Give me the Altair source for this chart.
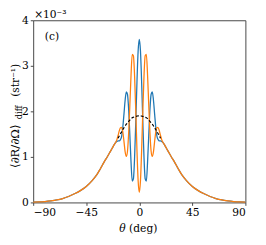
import altair as alt
import pandas as pd

# --- values (units of 1e-3 str^-1) ---
core_theta = list(range(0, 21))
blue_core = [3.58, 3.32, 2.63, 1.76, 0.98, 0.52, 0.47, 0.88, 1.47, 2.03, 2.37,
             2.43, 2.25, 1.94, 1.65, 1.45, 1.38, 1.35, 1.35, 1.34, 1.32]
orange_core = [0.22, 0.48, 1.16, 2.02, 2.78, 3.22, 3.25, 2.80, 2.15, 1.54, 1.13,
               1.01, 1.11, 1.34, 1.55, 1.65, 1.64, 1.57, 1.47, 1.38, 1.32]
tail_theta = [21, 23, 25, 27, 30, 33, 36, 40, 45, 50, 55, 60, 65, 70, 75, 80, 85, 90]
tail_vals = [1.28, 1.19, 1.10, 1.01, 0.88, 0.74, 0.61, 0.48, 0.35, 0.26, 0.19,
             0.13, 0.085, 0.055, 0.035, 0.02, 0.01, 0.005]
dash_theta = list(range(0, 19))
dash_vals = [1.90, 1.90, 1.895, 1.89, 1.88, 1.87, 1.86, 1.84, 1.81, 1.78, 1.75,
             1.72, 1.68, 1.64, 1.60, 1.55, 1.51, 1.46, 1.41]

x_ticks = [-90, -45, 0, 45, 90]
y_ticks = [0, 1, 2, 3, 4]

FONT = "DejaVu Serif"


def mirrored(thetas, vals):
    """Curve is symmetric about theta = 0 in the reference."""
    pts = {}
    for t, v in zip(thetas, vals):
        pts[t] = v
        pts[-t] = v
    ks = sorted(pts)
    return ks, [pts[k] for k in ks]


bt, bv = mirrored(core_theta + tail_theta, blue_core + tail_vals)
ot, ov = mirrored(core_theta + tail_theta, orange_core + tail_vals)
dt, dv = mirrored(dash_theta, dash_vals)

blue_df = pd.DataFrame({"theta": bt, "R": bv})
orange_df = pd.DataFrame({"theta": ot, "R": ov})
dash_df = pd.DataFrame({"theta": dt, "R": dv})

xs = alt.X("theta:Q", scale=alt.Scale(domain=[-90, 90], nice=False),
           axis=alt.Axis(values=x_ticks, title=None, grid=False, domain=False,
                         tickSize=3, labelPadding=2, tickColor="#444",
                         labelFont=FONT, labelFontSize=11))
ys = alt.Y("R:Q", scale=alt.Scale(domain=[0, 4], nice=False),
           axis=alt.Axis(values=y_ticks, title=None, grid=False, domain=False,
                         tickSize=3, labelPadding=2, tickColor="#444",
                         labelFont=FONT, labelFontSize=11))

blue = alt.Chart(blue_df).mark_line(color="#1f77b4", strokeWidth=1.3,
                                    interpolate="monotone").encode(x=xs, y=ys)
orange = alt.Chart(orange_df).mark_line(color="#ff7f0e", strokeWidth=1.3,
                                        interpolate="monotone").encode(x=xs, y=ys)
dashed = alt.Chart(dash_df).mark_line(color="black", strokeWidth=1.2,
                                      strokeDash=[3, 2],
                                      interpolate="monotone").encode(x=xs, y=ys)

one = pd.DataFrame({"a": [0]})


def txt(s, x, y, size=12, angle=0, align="left", baseline="alphabetic", style="normal"):
    return alt.Chart(one).mark_text(text=s, font=FONT, fontSize=size, angle=angle,
                                    align=align, baseline=baseline, fontStyle=style,
                                    color="black").encode(x=alt.value(x), y=alt.value(y))


annotations = [
    txt("×10⁻³", 1, -2, size=11),
    txt("(c)", 12, 20, size=11),
    txt("θ", 92, 219, size=11, align="center", style="italic"),
    txt("(deg)", 99, 219, size=11),
    txt("⟨∂R/∂Ω⟩", -15, 130, size=12, angle=270, align="center"),
    txt("diff", -12, 95, size=8.5, angle=270, align="center"),
    txt("(str⁻¹)", -15, 62, size=11, angle=270, align="center"),
]

chart = alt.layer(blue, orange, dashed, *annotations).properties(
    width=219, height=188,
    autosize=alt.AutoSizeParams(type="none"),
    padding={"left": 26, "top": 9, "right": 13, "bottom": 32},
).configure_view(stroke="#444", strokeWidth=1)

chart.save("out.html", embed_options={"renderer": "svg", "actions": False})
